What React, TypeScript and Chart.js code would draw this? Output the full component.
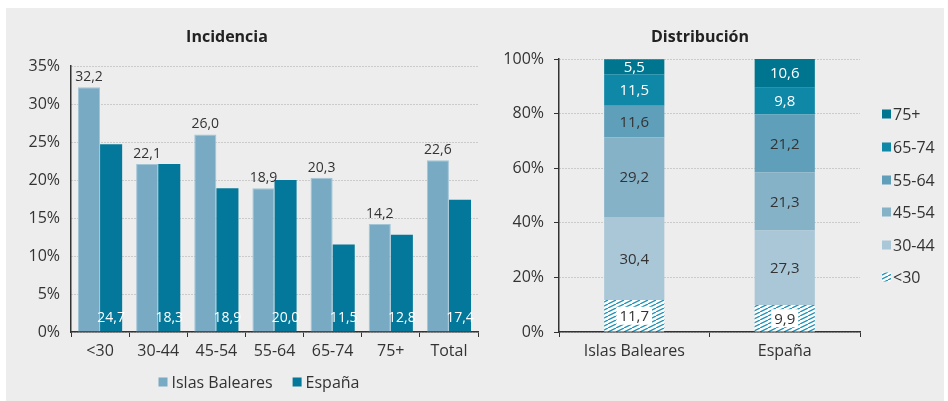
import React, { useEffect, useRef } from "react";
import { Chart, registerables } from "chart.js";

Chart.register(...registerables);

// ---------- data ----------
const ageGroups = ["<30", "30-44", "45-54", "55-64", "65-74", "75+", "Total"];
const balearesValues = [32.2, 22.1, 26.0, 18.9, 20.3, 14.2, 22.6];
const espanaValues = [24.7, 22.1, 18.9, 20.0, 11.5, 12.8, 17.4];
const espanaLabels = ["24,7", "18,3", "18,9", "20,0", "11,5", "12,8", "17,4"];
const incidenceTicks = [0, 5, 10, 15, 20, 25, 30, 35];

const regions = ["Islas Baleares", "España"];
const distGroups = ["<30", "30-44", "45-54", "55-64", "65-74", "75+"];
const distBaleares = [11.7, 30.4, 29.2, 11.6, 11.5, 5.5];
const distEspana = [9.9, 27.3, 21.3, 21.2, 9.8, 10.6];
const distributionTicks = [0, 20, 40, 60, 80, 100];

const seriesNames = ["Islas Baleares", "España"];

// ---------- styles ----------
const FONT = '"Open Sans", Lato, sans-serif';
const TEXT = "#333333";
const BAL_COLOR = "#79aac3";
const ESP_COLOR = "#03789a";
const DIST_COLORS = ["hatch", "#a9c7d7", "#86b2c8", "#5f9fba", "#0f87a6", "#00758f"];
const DIST_TEXT = [TEXT, TEXT, TEXT, TEXT, "#ffffff", "#ffffff"];
const HATCH = "#2291b3";

const fmt = (v: number) => v.toFixed(1).replace(".", ",");

function makeHatch(ctx: CanvasRenderingContext2D): CanvasPattern | string {
  const c = document.createElement("canvas");
  c.width = 8;
  c.height = 4;
  const g = c.getContext("2d");
  if (!g) return "#ffffff";
  g.fillStyle = "#ffffff";
  g.fillRect(0, 0, 8, 4);
  g.strokeStyle = HATCH;
  g.lineWidth = 1.3;
  g.beginPath();
  for (let k = -1; k <= 1; k++) {
    g.moveTo(k * 8, 4);
    g.lineTo(k * 8 + 8, 0);
  }
  g.stroke();
  return ctx.createPattern(c, "repeat") || "#ffffff";
}

export default function App() {
  const leftRef = useRef<HTMLCanvasElement>(null);
  const rightRef = useRef<HTMLCanvasElement>(null);

  useEffect(() => {
    Chart.defaults.font.family = FONT;
    Chart.defaults.color = TEXT;

    // ---------- Left chart: Incidencia ----------
    const leftPlugin = {
      id: "incidenceExtras",
      afterDatasetsDraw(chart: any) {
        const ctx = chart.ctx;
        ctx.save();
        ctx.font = `14px ${FONT}`;
        ctx.textAlign = "center";
        ctx.textBaseline = "middle";
        ctx.fillStyle = TEXT;
        chart.getDatasetMeta(0).data.forEach((el: any, i: number) => {
          ctx.fillText(fmt(balearesValues[i]), el.x, el.y - 10);
        });
        const base = chart.scales.y.getPixelForValue(0);
        ctx.fillStyle = "#ffffff";
        chart.getDatasetMeta(1).data.forEach((el: any, i: number) => {
          ctx.fillText(espanaLabels[i], el.x, base - 14);
        });
        ctx.restore();
      },
      afterDraw(chart: any) {
        const ctx = chart.ctx;
        ctx.save();
        ctx.font = `bold 16px ${FONT}`;
        ctx.fillStyle = "#222222";
        ctx.textAlign = "center";
        ctx.textBaseline = "middle";
        ctx.fillText("Incidencia", 221, 29);
        // legend
        ctx.font = `16px ${FONT}`;
        const colors = [BAL_COLOR, ESP_COLOR];
        const widths = seriesNames.map((t) => ctx.measureText(t).width);
        const box = 9, gap = 4, spacing = 20;
        const total = widths.reduce((a, w) => a + box + gap + w, 0) + spacing;
        let x = 253 - total / 2;
        const y = 374;
        ctx.textAlign = "left";
        seriesNames.forEach((t, i) => {
          ctx.fillStyle = colors[i];
          ctx.fillRect(x, y - box / 2, box, box);
          ctx.fillStyle = TEXT;
          ctx.fillText(t, x + box + gap, y + 1);
          x += box + gap + widths[i] + spacing;
        });
        ctx.restore();
      },
    };

    const left = new Chart(leftRef.current as HTMLCanvasElement, {
      type: "bar",
      data: {
        labels: ageGroups,
        datasets: [
          {
            label: seriesNames[0],
            data: balearesValues,
            backgroundColor: BAL_COLOR,
            borderColor: "#a2c5d7",
            borderWidth: 1,
            categoryPercentage: 0.76,
            barPercentage: 1,
          },
          {
            label: seriesNames[1],
            data: espanaValues,
            backgroundColor: ESP_COLOR,
            borderWidth: 0,
            categoryPercentage: 0.76,
            barPercentage: 1,
          },
        ],
      },
      options: {
        responsive: false,
        animation: false,
        devicePixelRatio: 1,
        events: [],
        layout: { padding: { top: 58, right: 2, bottom: 38, left: 0 } },
        plugins: { legend: { display: false }, title: { display: false }, tooltip: { enabled: false } },
        scales: {
          x: {
            afterFit: (s: any) => {
              s.height = 31;
            },
            grid: {
              display: true,
              drawOnChartArea: false,
              drawTicks: true,
              tickLength: 5,
              tickColor: TEXT,
              offset: true,
            },
            border: { display: true, color: TEXT, width: 1.5 },
            ticks: { color: TEXT, font: { size: 16, family: FONT }, padding: 5 },
          },
          y: {
            min: 0,
            max: 35,
            afterFit: (s: any) => {
              s.width = 65;
            },
            afterBuildTicks: (s: any) => {
              s.ticks = incidenceTicks.map((v) => ({ value: v }));
            },
            grid: { color: "#a8a8a8", lineWidth: 1, drawTicks: false },
            border: { display: true, color: TEXT, width: 1.5, dash: [1, 2] },
            ticks: {
              color: TEXT,
              font: { size: 16, family: FONT },
              padding: 11,
              callback: (v: any) => `${v}%`,
            },
          },
        },
      },
      plugins: [leftPlugin],
    } as any);

    // ---------- Right chart: Distribución ----------
    const rctx = (rightRef.current as HTMLCanvasElement).getContext("2d") as CanvasRenderingContext2D;
    const hatch = makeHatch(rctx);

    const rightPlugin = {
      id: "distributionExtras",
      afterDatasetsDraw(chart: any) {
        const ctx = chart.ctx;
        ctx.save();
        ctx.font = `15px ${FONT}`;
        ctx.textAlign = "center";
        ctx.textBaseline = "middle";
        chart.data.datasets.forEach((ds: any, di: number) => {
          const meta = chart.getDatasetMeta(di);
          meta.data.forEach((el: any, i: number) => {
            const yc = (el.y + el.base) / 2;
            const txt = fmt(ds.data[i]);
            if (di === 0) {
              const w = ctx.measureText(txt).width;
              ctx.fillStyle = "#ffffff";
              ctx.fillRect(el.x - w / 2 - 3, yc - 9, w + 6, 18);
            }
            ctx.fillStyle = DIST_TEXT[di];
            ctx.fillText(txt, el.x, yc + 1);
          });
        });
        ctx.restore();
      },
      afterDraw(chart: any) {
        const ctx = chart.ctx;
        ctx.save();
        ctx.font = `bold 16px ${FONT}`;
        ctx.fillStyle = "#222222";
        ctx.textAlign = "center";
        ctx.textBaseline = "middle";
        ctx.fillText("Distribución", 220, 29);
        ctx.font = `16px ${FONT}`;
        ctx.textAlign = "left";
        const ys = [269, 237, 204, 172, 139, 106];
        distGroups.forEach((g, i) => {
          const y = ys[i];
          ctx.fillStyle = i === 0 ? hatch : DIST_COLORS[i];
          ctx.fillRect(402, y - 4.5, 9, 9);
          ctx.fillStyle = TEXT;
          ctx.fillText(g, 413, y + 1);
        });
        ctx.restore();
      },
    };

    const distSeries = distGroups.map((g, i) => ({
      label: g,
      data: [distBaleares[i], distEspana[i]],
      backgroundColor: i === 0 ? hatch : DIST_COLORS[i],
      borderWidth: 0,
      categoryPercentage: 1,
      barPercentage: 0.4,
    }));

    const right = new Chart(rightRef.current as HTMLCanvasElement, {
      type: "bar",
      data: { labels: regions, datasets: distSeries },
      options: {
        responsive: false,
        animation: false,
        devicePixelRatio: 1,
        events: [],
        layout: { padding: { top: 51, right: 84, bottom: 38, left: 0 } },
        plugins: { legend: { display: false }, title: { display: false }, tooltip: { enabled: false } },
        scales: {
          x: {
            stacked: true,
            afterFit: (s: any) => {
              s.height = 31;
            },
            grid: {
              display: true,
              drawOnChartArea: false,
              drawTicks: true,
              tickLength: 5,
              tickColor: TEXT,
              offset: true,
            },
            border: { display: true, color: TEXT, width: 1.5 },
            ticks: { color: TEXT, font: { size: 16, family: FONT }, padding: 5 },
          },
          y: {
            stacked: true,
            min: 0,
            max: 100,
            afterFit: (s: any) => {
              s.width = 79;
            },
            afterBuildTicks: (s: any) => {
              s.ticks = distributionTicks.map((v) => ({ value: v }));
            },
            grid: { color: "#a8a8a8", lineWidth: 1, drawTicks: true, tickLength: 5, tickColor: TEXT },
            border: { display: true, color: TEXT, width: 1.5, dash: [1, 2] },
            ticks: {
              color: TEXT,
              font: { size: 16, family: FONT },
              padding: 10,
              callback: (v: any) => `${v}%`,
            },
          },
        },
      },
      plugins: [rightPlugin],
    } as any);

    return () => {
      left.destroy();
      right.destroy();
    };
  }, []);

  return (
    <div
      style={{
        position: "absolute",
        left: 6,
        top: 8,
        width: 938,
        height: 393,
        background: "#ededed",
      }}
    >
      <canvas
        ref={leftRef}
        width={474}
        height={393}
        style={{ position: "absolute", left: 0, top: 0, width: 474, height: 393 }}
      />
      <canvas
        ref={rightRef}
        width={464}
        height={393}
        style={{ position: "absolute", left: 474, top: 0, width: 464, height: 393 }}
      />
    </div>
  );
}
